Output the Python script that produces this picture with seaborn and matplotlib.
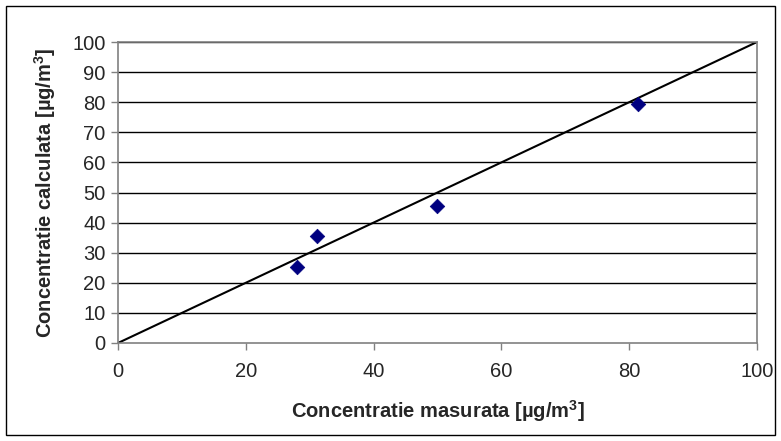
import matplotlib
matplotlib.use("Agg")
import matplotlib.pyplot as plt
import seaborn as sns
import pandas as pd
from matplotlib.patches import Rectangle

measured = [28.0, 31.1, 49.9, 81.4]
calculated = [25.3, 35.6, 45.5, 79.5]
identity_x = [0, 100]
identity_y = [0, 100]
ticks_x = [0, 20, 40, 60, 80, 100]
ticks_y = [0, 10, 20, 30, 40, 50, 60, 70, 80, 90, 100]

sns.set_style("white")
plt.rcParams["font.family"] = ["Liberation Sans", "DejaVu Sans"]
plt.rcParams["mathtext.fontset"] = "custom"
plt.rcParams["mathtext.rm"] = "Liberation Sans"
plt.rcParams["mathtext.bf"] = "Liberation Sans:bold"

W, H = 781, 441
fig = plt.figure(figsize=(W / 100, H / 100), dpi=100)
ax = fig.add_axes([118 / W, (H - 343) / H, (757 - 118) / W, (343 - 42) / H])

df = pd.DataFrame({"m": measured, "c": calculated})
line = pd.DataFrame({"x": identity_x, "y": identity_y})

for yv in ticks_y[1:]:
    ax.axhline(yv, color="black", lw=1.0, zorder=0)

sns.lineplot(data=line, x="x", y="y", ax=ax, color="black", lw=1.5, zorder=2)
sns.scatterplot(data=df, x="m", y="c", ax=ax, marker="D", s=55,
                color="#000080", edgecolor="#000080", linewidth=0.5, zorder=3)

ax.set_xlim(0, 100)
ax.set_ylim(0, 100)
ax.set_xticks(ticks_x)
ax.set_yticks(ticks_y)
ax.tick_params(axis="both", direction="out", length=5, width=1, color="#808080",
               labelsize=14.5, pad=4, bottom=True, left=True)
ax.tick_params(axis="x", pad=9)
for s in ax.spines.values():
    s.set_color("#808080")
    s.set_linewidth(1.2)

ax.set_xlabel(r"Concentratie masurata [µg/m$^{\mathbf{3}}$]", fontsize=14.5,
              fontweight="bold", labelpad=12)
ax.set_ylabel(r"Concentratie calculata [µg/m$^{\mathbf{3}}$]", fontsize=14.5,
              fontweight="bold", labelpad=10)

fig.patches.append(Rectangle((6 / W, 6 / H), (775 - 6) / W, (435 - 6) / H,
                             transform=fig.transFigure, fill=False,
                             edgecolor="black", lw=1.0))

fig.savefig("out.png", dpi=100)
